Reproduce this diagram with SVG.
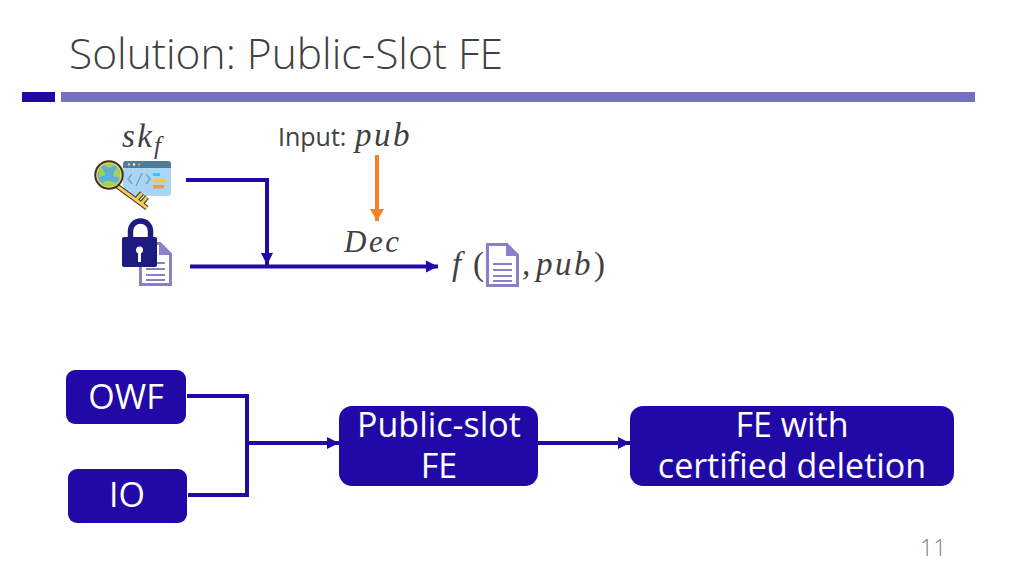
<svg xmlns="http://www.w3.org/2000/svg" width="1024" height="576" viewBox="0 0 1024 576">
<style>
.t{font-family:"Open Sans","Noto Sans",sans-serif}
.m{font-family:"Liberation Serif","DejaVu Serif",serif;font-style:italic;fill:#404040;letter-spacing:2.500px}
.w{font-size:34px;fill:#fff;text-anchor:middle}
.b{fill:#2109a8}
.c{fill:none;stroke:#2109a8;stroke-width:4}
</style>
<defs>
<marker id="a" markerUnits="userSpaceOnUse" markerWidth="14" markerHeight="14" refX="12" refY="7" orient="auto"><path d="M0 1L12 7L0 13Z" fill="#2109a8"/></marker>
<marker id="g" markerUnits="userSpaceOnUse" markerWidth="14" markerHeight="14" refX="12" refY="7" orient="auto"><path d="M0 0L12 7L0 14Z" fill="#f5822a"/></marker>
<g id="doc"><path d="M1.500 1.500H21L31.500 12V42.500H1.500Z" fill="#fff" stroke="#8a80c8" stroke-width="3"/><path d="M20 1L32 13H20Z" fill="#8a7fd0"/><path d="M7 21H26M7 27H26M7 33H26M7 38H26" stroke="#8a80c8" stroke-width="2.200"/></g>
</defs>
<rect width="1024" height="576" fill="#fff"/>
<g id="header">
<text class="t" x="69" y="69" font-size="42.500" font-weight="300" fill="#404040">Solution: Public-Slot FE</text>
<rect x="22" y="92" width="33" height="10" fill="#2109a8"/>
<rect x="61" y="92" width="914" height="10" fill="#7570bf"/>
</g>
<g id="connectors">
<path class="c" d="M186 180H267V265" marker-end="url(#a)"/>
<path class="c" d="M190 266.500H438" marker-end="url(#a)"/>
<path d="M377 155V221" fill="none" stroke="#f5822a" stroke-width="4" marker-end="url(#g)"/>
<path class="c" d="M187 396H247V495H188"/>
<path class="c" d="M247 443H339" marker-end="url(#a)"/>
<path class="c" d="M538 443H630" marker-end="url(#a)"/>
</g>
<g id="sk-label"><text class="m" x="122" y="147" font-size="33">sk</text><text class="m" x="154" y="154" font-size="25">f</text></g>
<g id="key-icon">
<rect x="123" y="161" width="48" height="35" rx="3" fill="#a9d6f5"/>
<path d="M123 168V164a3 3 0 0 1 3-3h42a3 3 0 0 1 3 3v4Z" fill="#4f7d97"/>
<circle cx="129" cy="164.500" r="1.200" fill="#ffd27a"/><circle cx="134" cy="164.500" r="1.200" fill="#fff"/><circle cx="139" cy="164.500" r="1.200" fill="#e89a5a"/>
<path d="M132 174L128 179L132 184M142 173L136 186M146 174L150 179L146 184" fill="none" stroke="#6f9fc0" stroke-width="1.300"/>
<rect x="153" y="173" width="7" height="3" fill="#3cc8e8"/><rect x="153" y="179" width="13" height="3.500" fill="#f4c542"/><rect x="153" y="185" width="11" height="3.500" fill="#e89a5a"/>
<path d="M117 186L147 208M136 200L142 193M141 204L147 197" fill="none" stroke="#3a3520" stroke-width="5"/>
<path d="M117 186L147 208M136 200L142 193M141 204L147 197" fill="none" stroke="#f2cd5c" stroke-width="2.800"/>
<circle cx="109" cy="175" r="13.500" fill="#5fb0d8" stroke="#3a3520" stroke-width="2.500"/>
<circle cx="109" cy="175" r="12" fill="none" stroke="#f2cd5c" stroke-width="1.500"/>
<path d="M100 167Q105 170 105 175L99 177Q99 171 100 167M118 167Q113 172 113 176L120 178Q120 171 118 167M101 184Q106 180 110 181Q114 181 117 184Q110 189 101 184" fill="#9ed45a"/>
<path d="M104 165Q109 170 114 165Q109 163 104 165" fill="#9ed45a"/>
</g>
<g id="lock-icon">
<use href="#doc" x="139" y="242"/>
<path d="M130.500 240V231a10 10 0 0 1 20 0V240" fill="none" stroke="#1d1a80" stroke-width="5.500"/>
<rect x="122" y="237" width="35" height="30" rx="2" fill="#1d1a80"/>
<circle cx="139.500" cy="250" r="3.500" fill="#fff"/><rect x="138" y="251" width="3" height="11" fill="#fff"/>
</g>
<g id="input-label"><text class="t" x="278" y="146" font-size="25" fill="#404040">Input:</text><text class="m" x="355" y="146" font-size="33">pub</text></g>
<g id="dec-label"><text class="m" x="344" y="252" font-size="31">Dec</text></g>
<g id="result">
<text class="m" x="452" y="275" font-size="33">f</text><text class="m" x="473" y="275" font-size="33" style="font-style:normal">(</text>
<use href="#doc" x="486" y="243"/>
<text class="m" x="522" y="275" font-size="33">,</text><text class="m" x="536" y="275" font-size="33">pub</text><text class="m" x="594" y="275" font-size="33" style="font-style:normal">)</text>
</g>
<g id="owf"><rect class="b" x="66" y="370" width="120" height="54" rx="9"/><text class="t w" x="126" y="409">OWF</text></g>
<g id="io"><rect class="b" x="68" y="469" width="119" height="54" rx="9"/><text class="t w" x="127" y="507">IO</text></g>
<g id="public-slot"><rect class="b" x="339" y="406" width="199" height="80" rx="13"/><text class="t w" x="439" y="437">Public-slot</text><text class="t w" x="439" y="478">FE</text></g>
<g id="fe-cd"><rect class="b" x="630" y="406" width="324" height="80" rx="13"/><text class="t w" x="792" y="437">FE with</text><text class="t w" x="792" y="478">certified deletion</text></g>
<g id="page"><text class="t" x="920" y="556" font-size="23" font-weight="300" fill="#808080">11</text></g>
</svg>
